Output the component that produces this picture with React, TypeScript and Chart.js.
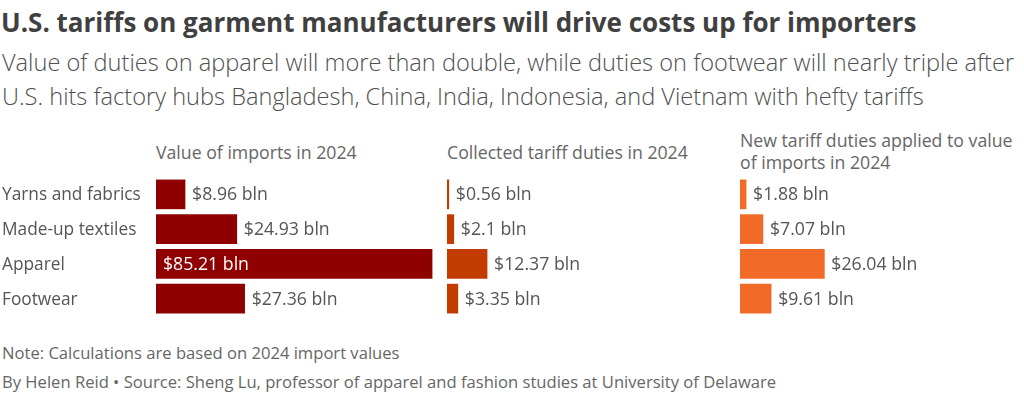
import React, { useEffect, useRef } from "react";
import { Chart, registerables } from "chart.js";

Chart.register(...registerables);

const categories = ["Yarns and fabrics", "Made-up textiles", "Apparel", "Footwear"];
const importsValue = [8.96, 24.93, 85.21, 27.36];
const collectedDuties = [0.56, 2.1, 12.37, 3.35];
const newDuties = [1.88, 7.07, 26.04, 9.61];
const panelTitles = ["Value of imports in 2024", "Collected tariff duties in 2024", "New tariff duties applied to value of imports in 2024"];

const FONT = "'Open Sans', Lato, sans-serif";
const PX_PER_UNIT = 3.24;

const labelPlugin = {
  id: "panelLabels",
  afterDatasetsDraw(chart: any, _args: any, opts: any) {
    const { ctx, chartArea } = chart;
    const meta = chart.getDatasetMeta(0);
    const data = chart.data.datasets[0].data as number[];
    const yScale = chart.scales.y;
    ctx.save();
    ctx.textBaseline = "middle";
    ctx.textAlign = "left";
    if (opts && opts.showCategories) {
      ctx.font = `17.3px ${FONT}`;
      ctx.fillStyle = "#555555";
      (chart.data.labels as string[]).forEach((lab, i) => {
        ctx.fillText(lab, 0, yScale.getPixelForValue(i) + 1);
      });
    }
    ctx.font = `17.7px ${FONT}`;
    meta.data.forEach((bar: any, i: number) => {
      const text = `$${data[i]} bln`;
      const w = ctx.measureText(text).width;
      if (bar.x + 7 + w > chartArea.right) {
        ctx.fillStyle = "#ffffff";
        ctx.fillText(text, bar.base + 7, bar.y + 1);
      } else {
        ctx.fillStyle = "#555555";
        ctx.fillText(text, bar.x + 7, bar.y + 1);
      }
    });
    ctx.restore();
  },
};

function BarPanel(props: { values: number[]; color: string; showLabels: boolean; width: number; axisWidth: number }) {
  const ref = useRef<HTMLCanvasElement>(null);
  useEffect(() => {
    if (!ref.current) return;
    const areaWidth = props.width - props.axisWidth;
    const chart = new Chart(ref.current, {
      type: "bar",
      data: {
        labels: categories,
        datasets: [
          {
            data: props.values,
            backgroundColor: props.color,
            borderWidth: 0,
            barThickness: 29,
          },
        ],
      },
      options: {
        indexAxis: "y",
        animation: false,
        responsive: false,
        maintainAspectRatio: false,
        layout: { padding: { left: props.axisWidth, top: 0, right: 0, bottom: 0 } },
        plugins: {
          legend: { display: false },
          tooltip: { enabled: false },
          title: { display: false },
          panelLabels: { showCategories: props.showLabels },
        } as any,
        scales: {
          x: { display: false, min: 0, max: areaWidth / PX_PER_UNIT },
          y: { display: false },
        },
      },
      plugins: [labelPlugin],
    });
    return () => chart.destroy();
  }, []);
  return <canvas ref={ref} width={props.width} height={139} style={{ display: "block", width: props.width, height: 139 }} />;
}

export default function App() {
  const text = (style: React.CSSProperties, content: string) => (
    <div style={{ position: "absolute", fontFamily: FONT, whiteSpace: "nowrap", ...style }}>{content}</div>
  );
  return (
    <div style={{ position: "absolute", left: 0, top: 0, width: 1024, height: 395, background: "#fff", overflow: "hidden" }}>
      {text({ left: 1, top: 5, fontSize: 26, fontWeight: 700, color: "#404040", lineHeight: "34px" }, "U.S. tariffs on garment manufacturers will drive costs up for importers")}
      <div style={{ position: "absolute", left: 2, top: 45, fontFamily: FONT, fontSize: 23.6, fontWeight: 300, color: "#505050", lineHeight: "34px", width: 1022, whiteSpace: "nowrap" }}>
        Value of duties on apparel will more than double, while duties on footwear will nearly triple after
        <br />
        U.S. hits factory hubs Bangladesh, China, India, Indonesia, and Vietnam with hefty tariffs
      </div>
      {text({ left: 156, top: 141, fontSize: 17.7, color: "#666", lineHeight: "22px" }, panelTitles[0])}
      {text({ left: 447, top: 141, fontSize: 17.7, color: "#666", lineHeight: "22px" }, panelTitles[1])}
      <div style={{ position: "absolute", left: 740, top: 129, fontFamily: FONT, fontSize: 17.7, color: "#666", lineHeight: "22px", width: 282 }}>
        {panelTitles[2]}
      </div>
      <div style={{ position: "absolute", left: 2, top: 177 }}>
        <BarPanel values={importsValue} color="#8f0000" showLabels={true} width={443} axisWidth={154} />
      </div>
      <div style={{ position: "absolute", left: 447, top: 177 }}>
        <BarPanel values={collectedDuties} color="#c23c00" showLabels={false} width={260} axisWidth={0} />
      </div>
      <div style={{ position: "absolute", left: 740, top: 177 }}>
        <BarPanel values={newDuties} color="#f26a28" showLabels={false} width={280} axisWidth={0} />
      </div>
      {text({ left: 2, top: 343, fontSize: 16.6, color: "#666", lineHeight: "20px" }, "Note: Calculations are based on 2024 import values")}
      {text({ left: 2, top: 372, fontSize: 16.6, color: "#666", lineHeight: "20px" }, "By Helen Reid \u2022 Source: Sheng Lu, professor of apparel and fashion studies at University of Delaware")}
    </div>
  );
}
